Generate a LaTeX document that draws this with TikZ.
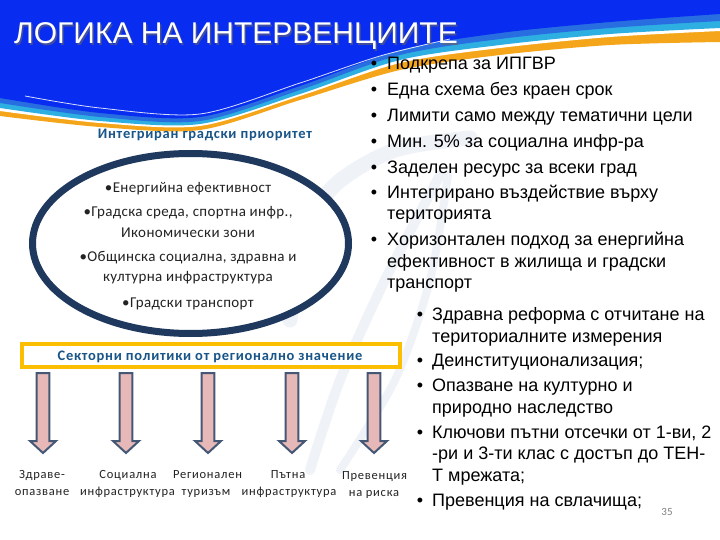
\documentclass[tikz,border=0pt]{standalone}
\usepackage{fontspec}
\setmainfont{Liberation Sans}
\newfontfamily\calfont{Carlito}[LetterSpace=2.5]
\newfontfamily\calhead{Carlito}[LetterSpace=5]
\newfontfamily\callab{Carlito}[LetterSpace=6]
\usetikzlibrary{shapes.geometric}
\definecolor{hdrblue}{RGB}{8,44,240}
\definecolor{midblue}{RGB}{40,110,225}
\definecolor{cyanband}{RGB}{45,175,225}
\definecolor{orangeband}{RGB}{245,165,25}
\definecolor{navy}{RGB}{31,56,93}
\definecolor{headteal}{RGB}{25,85,135}
\definecolor{boxgold}{RGB}{252,190,0}
\definecolor{arrowfill}{RGB}{230,184,183}
\definecolor{arrowline}{RGB}{68,88,118}
\definecolor{txtgray}{RGB}{35,35,35}
\definecolor{wmark}{RGB}{239,242,247}
\tikzset{
 rtext/.style={anchor=base west, inner sep=0, font=\fontsize{18}{21}\selectfont, text=black},
 rbul/.style={anchor=base, inner sep=0, font=\fontsize{18}{21}\selectfont, text=black},
 etext/.style={anchor=base, inner sep=0, font=\calfont\fontsize{15}{18}\selectfont, text=txtgray},
 ltext/.style={anchor=base, inner sep=0, font=\callab\fontsize{12.5}{15}\selectfont, text=txtgray},
 htext/.style={anchor=base, inner sep=0, font=\calhead\bfseries\fontsize{14.5}{17}\selectfont, text=headteal},
 blockarrow/.style={fill=arrowfill, draw=arrowline, line width=2pt, line join=miter},
 wline/.style={wmark, line width=15pt, line cap=round},
}
\begin{document}
\begin{tikzpicture}[x=1pt,y=-1pt]
\useasboundingbox (0,0) rectangle (720,540);
\fill[white] (0,0) rectangle (720,540);
% watermark
\draw[wline] plot[smooth] coordinates {(290,320) (300,240) (335,185) (395,150) (470,138)};
\draw[wline, line width=10pt] plot[smooth] coordinates {(310,470) (340,380) (385,280) (440,175)};
\draw[wline, line width=8pt] plot[smooth] coordinates {(340,470) (395,380) (430,280) (448,175)};
% header waves
\fill[orangeband] (0,0) -- plot[smooth] coordinates {(0,116) (100,127) (200,130) (300,100) (400,70) (500,55) (610,45) (720,42)} -- (720,0) -- cycle;
\fill[white] (0,0) -- plot[smooth] coordinates {(0,111) (100,123) (200,126) (300,96) (400,63) (500,48) (610,37) (720,31)} -- (720,0) -- cycle;
\fill[cyanband] (0,0) -- plot[smooth] coordinates {(0,108) (100,121) (200,124) (300,94) (400,60) (500,45) (610,34) (720,28)} -- (720,0) -- cycle;
\fill[midblue] (0,0) -- plot[smooth] coordinates {(0,103) (100,117) (200,121) (300,90) (400,55) (500,39) (610,28) (720,21)} -- (720,0) -- cycle;
\fill[hdrblue] (0,0) -- plot[smooth] coordinates {(0,98) (100,113) (200,117) (300,86) (400,50) (500,33) (610,22) (720,14)} -- (720,0) -- cycle;
\draw[white, line width=0.8pt, opacity=0.85] plot[smooth] coordinates {(25,96) (100,108) (200,114) (300,83) (380,56) (450,39)};
% title
\node[anchor=base west, inner sep=0, font=\fontsize{30}{30}\selectfont, text=black!60, opacity=0.6] (titlesh) at (15.5,45.5) {ЛОГИКА НА ИНТЕРВЕНЦИИТЕ};
\node[anchor=base west, inner sep=0, font=\fontsize{30}{30}\selectfont, text=white] (title) at (14,44) {ЛОГИКА НА ИНТЕРВЕНЦИИТЕ};
% left part
\node[htext] (prio) at (205,139) {Интегриран градски приоритет};
\node[ellipse, draw=navy, fill=white, line width=7pt, minimum width=316pt, minimum height=180pt, inner sep=0] (ell) at (190.5,243.5) {};
\node[etext] (e1) at (188,193) {•Енергийна ефективност};
\node[etext] (e2) at (188,217) {•Градска среда, спортна инфр.,};
\node[etext] (e3) at (188,237) {Икономически зони};
\node[etext] (e4) at (188,261) {•Общинска социална, здравна и};
\node[etext] (e5) at (188,281) {културна инфраструктура};
\node[etext] (e6) at (188,307) {•Градски транспорт};
\node[draw=boxgold, line width=4pt, fill=white, minimum width=378pt, minimum height=23pt, inner sep=0] (box) at (211,355) {};
\node[htext] (boxt) at (210,360) {Секторни политики от регионално значение};
% arrows
\foreach \i/\x in {1/43,2/126,3/208,4/292,5/374}{
  \coordinate (a\i) at (\x,373);
  \draw[blockarrow, shift={(a\i)}] (-6.3,0) -- (-6.3,68) -- (-13,68) -- (0,80) -- (13,68) -- (6.3,68) -- (6.3,0) -- cycle;
}
\node[ltext] (l1a) at (42,478) {Здраве-};
\node[ltext] (l1b) at (42,495) {опазване};
\node[ltext] (l2a) at (128,478) {Социална};
\node[ltext] (l2b) at (127.5,495) {инфраструктура};
\node[ltext] (l3a) at (207.5,478) {Регионален};
\node[ltext] (l3b) at (206,495) {туризъм};
\node[ltext] (l4a) at (288,478) {Пътна};
\node[ltext] (l4b) at (289,495) {инфраструктура};
\node[ltext] (l5a) at (374.5,479) {Превенция};
\node[ltext] (l5b) at (374,496) {на риска};
% right upper list
\node[rbul] (ub1) at (374,70) {•};
\node[rtext] (u1) at (387,70) {Подкрепа за ИПГВР};
\node[rbul] (ub2) at (374,96) {•};
\node[rtext] (u2) at (387,96) {Една схема без краен срок};
\node[rbul] (ub3) at (374,122) {•};
\node[rtext] (u3) at (387,122) {Лимити само между тематични цели};
\node[rbul] (ub4) at (374,148) {•};
\node[rtext] (u4) at (387,148) {Мин. 5\% за социална инфр-ра};
\node[rbul] (ub5) at (374,174) {•};
\node[rtext] (u5) at (387,174) {Заделен ресурс за всеки град};
\node[rbul] (ub6) at (374,199) {•};
\node[rtext] (u6) at (387,199) {Интегрирано въздействие върху};
\node[rtext] (u7) at (387,220) {територията};
\node[rbul] (ub8) at (374,245) {•};
\node[rtext] (u8) at (387,245) {Хоризонтален подход за енергийна};
\node[rtext] (u9) at (387,267) {ефективност в жилища и градски};
\node[rtext] (u10) at (387,288) {транспорт};
% right lower list
\node[rbul] (wb1) at (420,320) {•};
\node[rtext] (w1) at (432,320) {Здравна реформа с отчитане на};
\node[rtext] (w2) at (432,342) {териториалните измерения};
\node[rbul] (wb3) at (420,366) {•};
\node[rtext] (w3) at (432,366) {Деинституционализация;};
\node[rbul] (wb4) at (420,391) {•};
\node[rtext] (w4) at (432,391) {Опазване на културно и};
\node[rtext] (w5) at (432,413) {природно наследство};
\node[rbul] (wb6) at (420,438) {•};
\node[rtext] (w6) at (432,438) {Ключови пътни отсечки от 1-ви, 2};
\node[rtext] (w7) at (432,459) {-ри и 3-ти клас с достъп до ТЕН-};
\node[rtext] (w8) at (432,481) {Т мрежата;};
\node[rbul] (wb9) at (420,506) {•};
\node[rtext] (w9) at (432,506) {Превенция на свлачища;};
\node[anchor=base, inner sep=0, font=\calfont\fontsize{11}{13}\selectfont, text=black!50] (pg) at (667,515) {35};
\end{tikzpicture}
\end{document}
